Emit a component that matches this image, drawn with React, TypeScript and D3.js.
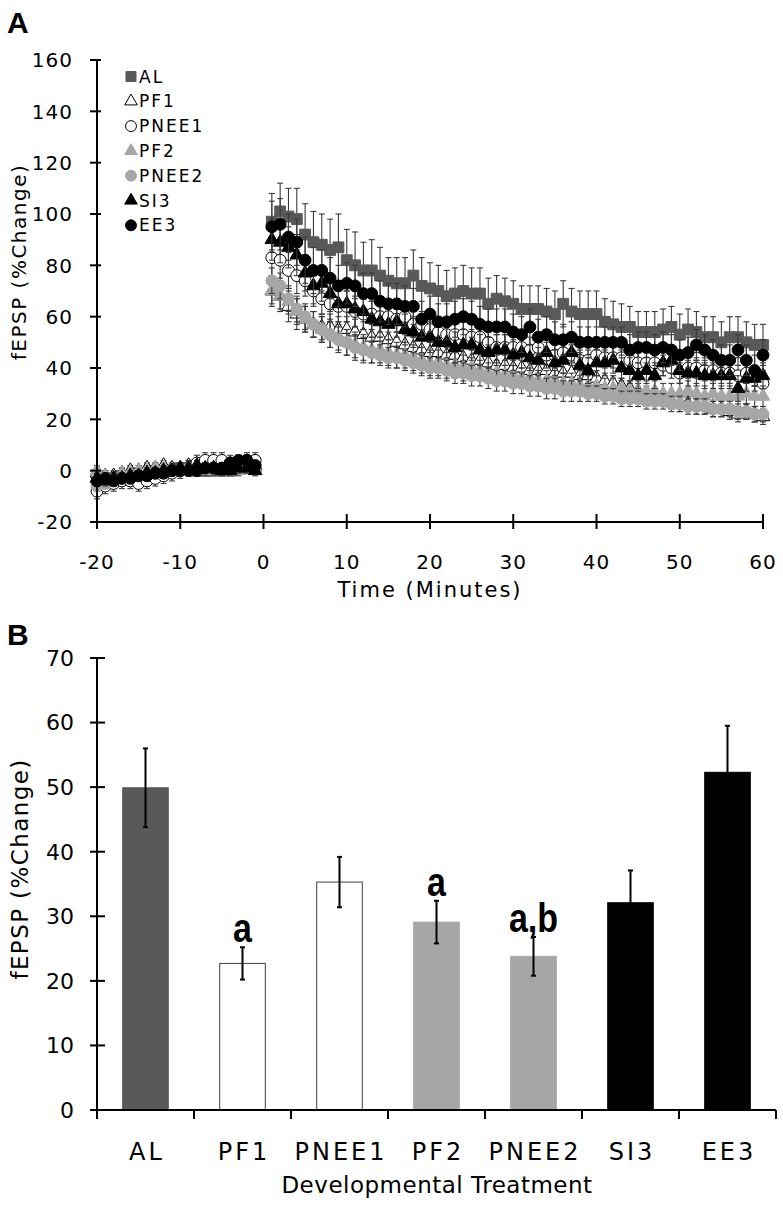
import React from 'react';
import * as d3 from 'd3';

// ---------- Panel A data ----------
const seriesNames = ['AL', 'PF1', 'PNEE1', 'PF2', 'PNEE2', 'SI3', 'EE3'];

const preTimes = [-20, -19, -18, -17, -16, -15, -14, -13, -12, -11, -10, -9, -8, -7, -6, -5, -4, -3, -2, -1];
const postTimes = [1, 2, 3, 4, 5, 6, 7, 8, 9, 10, 11, 12, 13, 14, 15, 16, 17, 18, 19, 20, 21, 22, 23, 24, 25, 26, 27, 28, 29, 30,
  31, 32, 33, 34, 35, 36, 37, 38, 39, 40, 41, 42, 43, 44, 45, 46, 47, 48, 49, 50, 51, 52, 53, 54, 55, 56, 57, 58, 59, 60];

const alPre = [-2, -3, -3, -2, -2, -1, -1, 0, 0, 0, 1, 1, 0, 0, 0, 1, 0, 1, 1, 1];
const pf1Pre = [-1, -2, -2, -1, 0, 0, 1, 1, 2, 1, 1, 2, 1, 1, 1, 0, 1, 1, 2, 2];
const pnee1Pre = [-8, -6, -5, -4, -4, -5, -4, -3, -2, -1, 0, 1, 3, 4, 4, 4, 3, 3, 4, 4];
const pf2Pre = [0, -2, -3, -1, -1, 0, 0, 1, 1, 0, 1, 1, 0, 0, 1, 0, 0, 0, 1, 1];
const pnee2Pre = [-6, -5, -3, -3, -2, -2, -1, -1, 0, 0, 0, 1, 1, 1, 1, 1, 0, 1, 1, 1];
const si3Pre = [-3, -4, -3, -3, -2, -2, -1, -1, 0, 0, 1, 1, 2, 1, 1, 0, 0, 1, 1, 0];
const ee3Pre = [-4, -3, -4, -3, -3, -2, -2, -1, -1, 0, 0, 0, 0, 1, 1, 1, 3, 4, 4, 2];

const alPreSem = [2, 2, 2, 2, 2, 2, 2, 2, 2, 2, 2, 2, 2, 2, 2, 2, 2, 2, 2, 2];
const pf1PreSem = [2, 2, 2, 2, 2, 2, 2, 2, 2, 2, 2, 2, 2, 2, 2, 2, 2, 2, 2, 2];
const pnee1PreSem = [3, 3, 3, 3, 3, 3, 3, 3, 3, 3, 3, 3, 3, 3, 3, 3, 3, 3, 3, 3];
const pf2PreSem = [2, 2, 2, 2, 2, 2, 2, 2, 2, 2, 2, 2, 2, 2, 2, 2, 2, 2, 2, 2];
const pnee2PreSem = [2, 2, 2, 2, 2, 2, 2, 2, 2, 2, 2, 2, 2, 2, 2, 2, 2, 2, 2, 2];
const si3PreSem = [2, 2, 2, 2, 2, 2, 2, 2, 2, 2, 2, 2, 2, 2, 2, 2, 2, 2, 2, 2];
const ee3PreSem = [2, 2, 2, 2, 2, 2, 2, 2, 2, 2, 2, 2, 2, 2, 2, 2, 2, 2, 2, 2];

const alPost = [97, 101, 99, 98, 92, 89, 88, 86, 87, 82, 80, 78, 78, 76, 74, 73, 73, 76, 72, 71,
  70, 68, 69, 70, 69, 69, 65, 67, 66, 65, 63, 63, 63, 62, 61, 65, 62, 61, 61, 61,
  58, 57, 56, 56, 54, 54, 54, 55, 56, 53, 55, 54, 52, 52, 50, 52, 52, 50, 49, 49];
const pf1Post = [70, 68, 64, 61, 59, 57, 56, 56, 55, 55, 54, 53, 52, 52, 51, 50, 49, 48, 47, 46,
  46, 45, 45, 44, 43, 43, 42, 41, 41, 40, 40, 39, 39, 39, 38, 38, 38, 37, 37, 36,
  35, 34, 33, 32, 31, 30, 29, 28, 27, 26, 26, 25, 25, 24, 24, 23, 22, 23, 22, 21];
const pnee1Post = [83, 82, 78, 76, 74, 70, 67, 65, 64, 64, 62, 61, 61, 60, 60, 59, 60, 57, 57, 55,
  54, 53, 53, 53, 52, 52, 50, 48, 48, 48, 48, 47, 48, 45, 45, 46, 45, 43, 43, 45,
  44, 44, 44, 43, 42, 42, 42, 41, 40, 38, 40, 40, 39, 39, 38, 38, 37, 38, 37, 34];
const pf2Post = [70, 68, 66, 62, 59, 57, 55, 53, 52, 50, 49, 48, 47, 47, 46, 45, 45, 44, 43, 42,
  42, 41, 41, 40, 40, 39, 38, 38, 37, 37, 36, 36, 35, 35, 35, 34, 34, 33, 33, 33,
  32, 32, 32, 31, 31, 31, 31, 30, 30, 30, 31, 30, 29, 30, 29, 29, 29, 30, 29, 29];
const pnee2Post = [74, 72, 67, 63, 60, 57, 55, 53, 51, 50, 48, 47, 46, 45, 44, 44, 43, 42, 41, 40,
  40, 39, 38, 38, 37, 37, 36, 35, 35, 34, 34, 33, 33, 32, 32, 31, 31, 31, 30, 30,
  29, 29, 28, 28, 28, 27, 27, 27, 26, 26, 25, 25, 25, 24, 24, 24, 23, 23, 22, 22];
const si3Post = [90, 89, 87, 84, 77, 72, 73, 69, 65, 65, 63, 62, 59, 58, 57, 58, 55, 54, 52, 52,
  50, 50, 48, 49, 49, 47, 46, 47, 47, 45, 46, 44, 43, 46, 42, 43, 46, 41, 39, 42,
  42, 43, 40, 39, 37, 39, 37, 42, 43, 39, 38, 38, 37, 37, 37, 37, 32, 36, 36, 37];
const ee3Post = [95, 96, 91, 89, 82, 78, 78, 75, 72, 73, 72, 69, 69, 66, 65, 65, 64, 64, 59, 61,
  58, 58, 59, 60, 59, 57, 56, 56, 56, 54, 53, 56, 52, 53, 51, 51, 52, 50, 50, 50,
  50, 50, 50, 47, 48, 48, 47, 48, 47, 45, 46, 49, 47, 45, 43, 43, 47, 43, 39, 45];

const alPostSem = [11, 11, 11, 12, 12, 12, 12, 12, 13, 12, 13, 11, 12, 11, 9, 10, 10, 10, 11, 10,
  10, 10, 10, 10, 10, 10, 10, 9, 9, 9, 9, 9, 9, 9, 9, 9, 9, 9, 9, 9,
  9, 9, 9, 8, 8, 8, 8, 8, 8, 8, 8, 8, 8, 8, 8, 8, 8, 8, 8, 8];
const pf1PostSem = [6, 6, 6, 6, 5, 5, 5, 5, 5, 5, 5, 5, 5, 5, 5, 4, 4, 4, 4, 4,
  4, 4, 4, 4, 4, 4, 4, 4, 4, 4, 4, 4, 4, 4, 4, 4, 4, 4, 3, 3,
  3, 3, 3, 3, 3, 3, 3, 3, 3, 3, 3, 3, 3, 3, 3, 3, 3, 3, 3, 3];
const pnee1PostSem = [7, 7, 7, 7, 6, 6, 6, 6, 6, 6, 6, 6, 6, 6, 6, 5, 5, 5, 5, 5,
  5, 5, 5, 5, 5, 5, 5, 5, 5, 5, 5, 5, 5, 5, 5, 4, 4, 4, 4, 4,
  4, 4, 4, 4, 4, 4, 4, 4, 4, 4, 4, 4, 4, 4, 4, 4, 4, 4, 4, 4];
const pf2PostSem = [5, 5, 5, 5, 5, 5, 5, 5, 5, 5, 5, 5, 5, 5, 5, 5, 5, 5, 5, 5,
  5, 5, 5, 5, 4, 4, 4, 4, 4, 4, 4, 4, 4, 4, 4, 4, 4, 4, 4, 4,
  4, 4, 4, 4, 4, 4, 4, 4, 4, 4, 4, 4, 4, 4, 4, 4, 4, 4, 4, 4];
const pnee2PostSem = [5, 5, 5, 5, 5, 5, 5, 5, 5, 5, 5, 5, 4, 4, 4, 4, 4, 4, 4, 4,
  4, 4, 4, 4, 4, 4, 4, 4, 4, 4, 4, 4, 4, 4, 4, 4, 4, 4, 3, 3,
  3, 3, 3, 3, 3, 3, 3, 3, 3, 3, 3, 3, 3, 3, 3, 3, 3, 3, 3, 3];
const si3PostSem = [8, 8, 8, 8, 7, 7, 7, 7, 7, 7, 7, 7, 7, 6, 6, 6, 6, 6, 6, 6,
  6, 6, 6, 6, 6, 6, 6, 6, 6, 6, 6, 5, 5, 5, 5, 5, 5, 5, 5, 5,
  5, 5, 5, 5, 5, 5, 5, 5, 5, 5, 5, 5, 5, 5, 5, 5, 5, 5, 5, 5];
const ee3PostSem = [10, 10, 9, 9, 9, 9, 8, 8, 8, 8, 8, 8, 8, 8, 8, 8, 8, 7, 7, 7,
  7, 7, 7, 7, 7, 7, 7, 7, 7, 7, 7, 7, 7, 7, 7, 6, 6, 6, 6, 6,
  6, 6, 6, 6, 6, 6, 6, 6, 6, 6, 6, 6, 6, 6, 6, 6, 6, 6, 6, 6];

const yTicksA = [-20, 0, 20, 40, 60, 80, 100, 120, 140, 160];
const xTicksA = [-20, -10, 0, 10, 20, 30, 40, 50, 60];

// ---------- Panel B data ----------
const categories = ['AL', 'PF1', 'PNEE1', 'PF2', 'PNEE2', 'SI3', 'EE3'];
const barMeans = [49.9, 22.7, 35.3, 29.1, 23.8, 32.1, 52.3];
const barSems = [6.1, 2.5, 3.9, 3.3, 3.0, 5.0, 7.2];
const barLetters = ['', 'a', '', 'a', 'a,b', '', ''];
const yTicksB = [0, 10, 20, 30, 40, 50, 60, 70];

// ---------- styles ----------
const DARK = '#595959';
const GREY = '#a6a6a6';
const seriesStyle: Record<string, { shape: string; fill: string; stroke: string }> = {
  AL: { shape: 'square', fill: DARK, stroke: DARK },
  PF1: { shape: 'triangle', fill: '#ffffff', stroke: '#000000' },
  PNEE1: { shape: 'circle', fill: '#ffffff', stroke: '#000000' },
  PF2: { shape: 'triangle', fill: GREY, stroke: GREY },
  PNEE2: { shape: 'circle', fill: GREY, stroke: GREY },
  SI3: { shape: 'triangle', fill: '#000000', stroke: '#000000' },
  EE3: { shape: 'circle', fill: '#000000', stroke: '#000000' },
};
const barStyle: Record<string, { fill: string; stroke: string }> = {
  AL: { fill: DARK, stroke: DARK },
  PF1: { fill: '#ffffff', stroke: '#404040' },
  PNEE1: { fill: '#ffffff', stroke: '#404040' },
  PF2: { fill: GREY, stroke: GREY },
  PNEE2: { fill: GREY, stroke: GREY },
  SI3: { fill: '#000000', stroke: '#000000' },
  EE3: { fill: '#000000', stroke: '#000000' },
};

const FONT = "'DejaVu Sans', Verdana, sans-serif";

function symbolPath(shape: string, k = 1) {
  if (shape === 'square') return d3.symbol().type(d3.symbolSquare).size(118 * k)()!;
  if (shape === 'circle') return d3.symbol().type(d3.symbolCircle).size(110 * k)()!;
  return d3.symbol().type(d3.symbolTriangle).size(80 * k)()!;
}

export default function App() {
  const W = 783, H = 1207;

  // Panel A scales
  const xA = d3.scaleLinear().domain([-20, 60]).range([97, 763]);
  const yA = d3.scaleLinear().domain([-20, 160]).range([522, 60]);

  const table = [
    { name: 'AL', pre: alPre, preSem: alPreSem, post: alPost, postSem: alPostSem },
    { name: 'PF1', pre: pf1Pre, preSem: pf1PreSem, post: pf1Post, postSem: pf1PostSem },
    { name: 'PNEE1', pre: pnee1Pre, preSem: pnee1PreSem, post: pnee1Post, postSem: pnee1PostSem },
    { name: 'PF2', pre: pf2Pre, preSem: pf2PreSem, post: pf2Post, postSem: pf2PostSem },
    { name: 'PNEE2', pre: pnee2Pre, preSem: pnee2PreSem, post: pnee2Post, postSem: pnee2PostSem },
    { name: 'SI3', pre: si3Pre, preSem: si3PreSem, post: si3Post, postSem: si3PostSem },
    { name: 'EE3', pre: ee3Pre, preSem: ee3PreSem, post: ee3Post, postSem: ee3PostSem },
  ].map((s) => ({
    ...s,
    points: [
      ...preTimes.map((t, i) => ({ t, v: s.pre[i], e: s.preSem[i] })),
      ...postTimes.map((t, i) => ({ t, v: s.post[i], e: s.postSem[i] })),
    ],
  }));

  // Panel B scales
  const xB = d3.scaleBand<string>().domain(categories).range([97, 776]).paddingInner(0.53).paddingOuter(0.265);
  const yB = d3.scaleLinear().domain([0, 70]).range([1110, 658]);
  const stepB = xB.step();
  const boundaries = categories.map((c) => (xB(c) as number) - stepB * 0.265);
  boundaries.push(776);

  return (
    <svg width={W} height={H} viewBox={`0 0 ${W} ${H}`}
      style={{ position: 'absolute', left: 0, top: 0, background: '#fff' }}
      fontFamily={FONT}>
      <rect x={0} y={0} width={W} height={H} fill="#fff" />

      {/* ===== Panel A ===== */}
      <text x={7} y={33} fontFamily="'Liberation Sans', Arial, sans-serif" fontWeight="bold" fontSize={30}>A</text>

      {/* series: error bars then markers, in legend order */}
      {table.map((s) => {
        const st = seriesStyle[s.name];
        const path = symbolPath(st.shape);
        return (
          <g key={s.name}>
            <g stroke="#3a3a3a" strokeWidth={1.1}>
              {s.points.map((p, i) => {
                const x = xA(p.t);
                const y1 = yA(p.v + p.e);
                const y2 = yA(p.v - p.e);
                return (
                  <g key={i}>
                    <line x1={x} x2={x} y1={y1} y2={y2} />
                    <line x1={x - 3} x2={x + 3} y1={y1} y2={y1} />
                    <line x1={x - 3} x2={x + 3} y1={y2} y2={y2} />
                  </g>
                );
              })}
            </g>
            {s.points.map((p, i) => (
              <path key={i} d={path} transform={`translate(${xA(p.t)},${yA(p.v)})`}
                fill={st.fill} stroke={st.stroke} strokeWidth={1} />
            ))}
          </g>
        );
      })}

      {/* axes A */}
      <g stroke="#000" strokeWidth={2}>
        <line x1={97} x2={97} y1={yA(160)} y2={yA(-20)} />
        <line x1={xA(-20)} x2={xA(60)} y1={yA(-20)} y2={yA(-20)} />
        {yTicksA.map((t) => (
          <line key={t} x1={90} x2={101} y1={yA(t)} y2={yA(t)} />
        ))}
        {xTicksA.map((t) => (
          <line key={t} x1={xA(t)} x2={xA(t)} y1={yA(-20) - 8} y2={yA(-20) + 7} />
        ))}
      </g>
      {yTicksA.map((t) => (
        <text key={t} x={73} y={yA(t)} dy="0.36em" textAnchor="end" fontSize={20} letterSpacing={1}>{t}</text>
      ))}
      {xTicksA.map((t) => (
        <text key={t} x={xA(t)} y={569} textAnchor="middle" fontSize={20} letterSpacing={1}>{t}</text>
      ))}
      <text x={430} y={597} textAnchor="middle" fontSize={21} letterSpacing={2}>Time (Minutes)</text>
      <text transform={`translate(26,262) rotate(-90)`} textAnchor="middle" fontSize={20} letterSpacing={1.5}>fEPSP (%Change)</text>

      {/* legend A */}
      {seriesNames.map((n, i) => {
        const st = seriesStyle[n];
        const cy = 76.5 + i * 24.8;
        return (
          <g key={n}>
            <path d={symbolPath(st.shape, 0.85)} transform={`translate(131,${cy})`} fill={st.fill} stroke={st.stroke} strokeWidth={1} />
            <text x={139} y={cy} dy="0.36em" fontSize={17} letterSpacing={2}>{n}</text>
          </g>
        );
      })}

      {/* ===== Panel B ===== */}
      <text x={7} y={645} fontFamily="'Liberation Sans', Arial, sans-serif" fontWeight="bold" fontSize={30}>B</text>

      {categories.map((c, i) => {
        const bs = barStyle[c];
        const x0 = xB(c) as number;
        const bw = xB.bandwidth();
        return (
          <rect key={c} x={x0} y={yB(barMeans[i])} width={bw} height={yB(0) - yB(barMeans[i])}
            fill={bs.fill} stroke={bs.stroke} strokeWidth={1} />
        );
      })}
      <g stroke="#000" strokeWidth={2}>
        {categories.map((c, i) => {
          const cx = (xB(c) as number) + xB.bandwidth() / 2;
          const yt = yB(barMeans[i] + barSems[i]);
          const yb = yB(barMeans[i] - barSems[i]);
          return (
            <g key={c}>
              <line x1={cx} x2={cx} y1={yt} y2={yb} />
              <line x1={cx - 2.5} x2={cx + 2.5} y1={yt} y2={yt} />
              <line x1={cx - 2.5} x2={cx + 2.5} y1={yb} y2={yb} />
            </g>
          );
        })}
      </g>
      {categories.map((c, i) => {
        if (!barLetters[i]) return null;
        const cx = (xB(c) as number) + xB.bandwidth() / 2;
        const yt = yB(barMeans[i] + barSems[i]);
        return (
          <text key={c} transform={`translate(${cx},${yt - 5}) scale(0.85,1)`} textAnchor="middle"
            fontFamily="'Liberation Sans', Arial, sans-serif" fontWeight="bold" fontSize={40}>{barLetters[i]}</text>
        );
      })}

      {/* axes B */}
      <g stroke="#000" strokeWidth={2}>
        <line x1={97} x2={97} y1={yB(70)} y2={yB(0)} />
        <line x1={97} x2={776} y1={yB(0)} y2={yB(0)} />
        {yTicksB.map((t) => (
          <line key={t} x1={90} x2={105} y1={yB(t)} y2={yB(t)} />
        ))}
        {boundaries.map((b, i) => (
          <line key={i} x1={b} x2={b} y1={yB(0)} y2={yB(0) + 9} />
        ))}
      </g>
      {yTicksB.map((t) => (
        <text key={t} x={74} y={yB(t)} dy="0.36em" textAnchor="end" fontSize={22}>{t}</text>
      ))}
      {categories.map((c) => (
        <text key={c} x={(xB(c) as number) + xB.bandwidth() / 2 + 1.5} y={1160} textAnchor="middle" fontSize={24} letterSpacing={3}>{c}</text>
      ))}
      <text x={437} y={1193} textAnchor="middle" fontSize={23} letterSpacing={0.5}>Developmental Treatment</text>
      <text transform={`translate(28,869) rotate(-90)`} textAnchor="middle" fontSize={23} letterSpacing={1.4}>fEPSP (%Change)</text>
    </svg>
  );
}
